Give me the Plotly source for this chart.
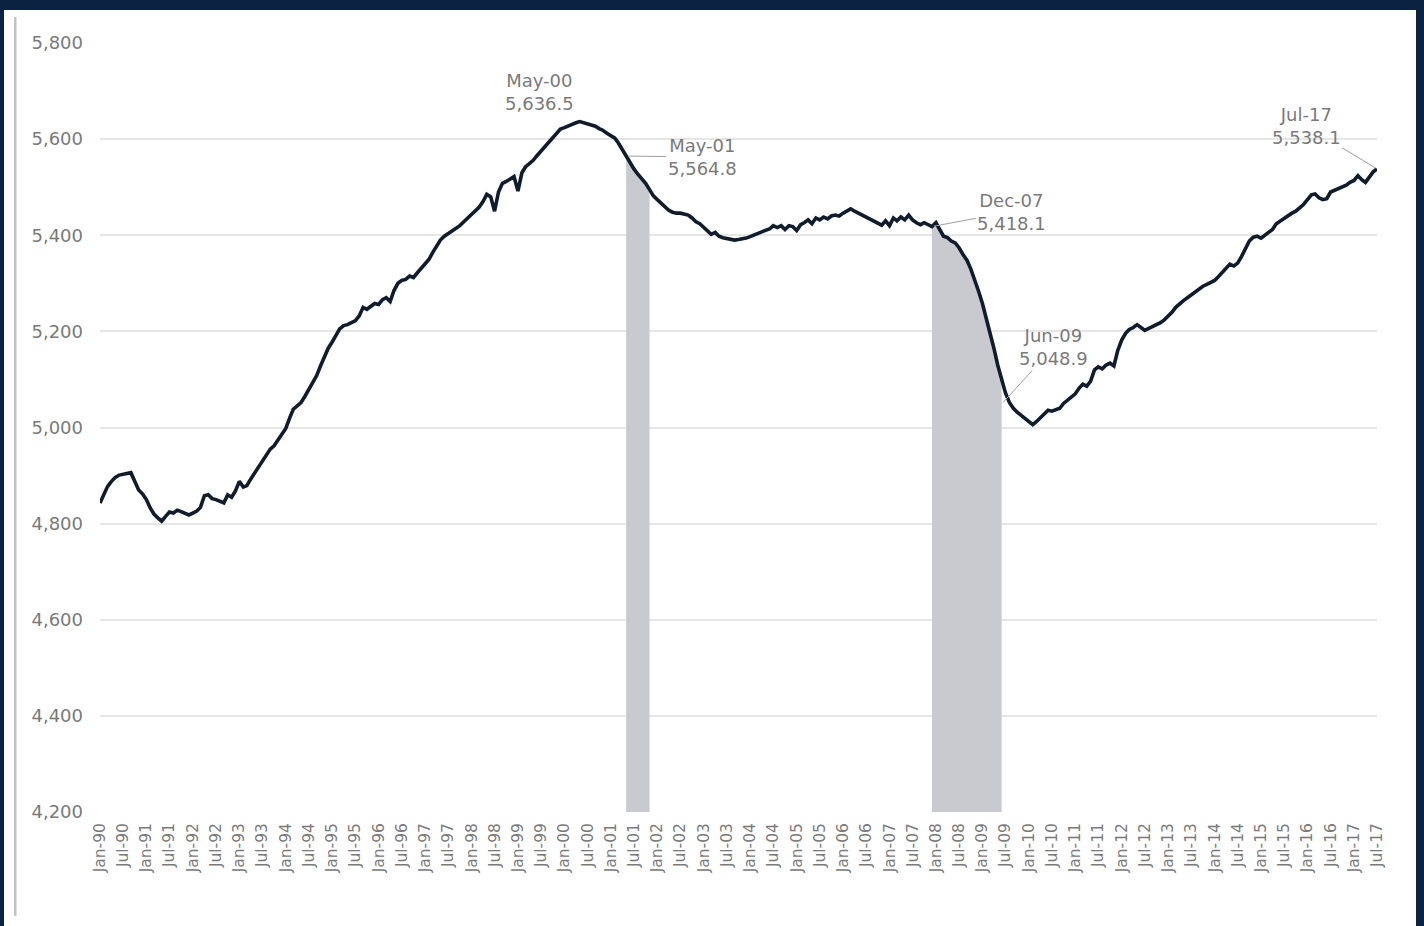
import pandas as pd
import plotly.graph_objects as go

# Monthly employment (thousands), Jan-1990 .. Jul-2017
v1990 = [4843, 4862, 4877, 4888, 4896, 4901, 4903, 4905, 4906, 4888, 4870, 4862]
v1991 = [4850, 4832, 4820, 4812, 4805, 4815, 4824, 4822, 4828, 4825, 4822, 4818]
v1992 = [4822, 4826, 4834, 4858, 4860, 4852, 4850, 4846, 4843, 4860, 4855, 4868]
v1993 = [4888, 4876, 4879, 4893, 4905, 4918, 4930, 4943, 4955, 4962, 4975, 4985]
v1994 = [4998, 5020, 5038, 5045, 5052, 5065, 5078, 5092, 5108, 5128, 5148, 5165]
v1995 = [5178, 5192, 5205, 5212, 5214, 5218, 5222, 5232, 5250, 5246, 5252, 5258]
v1996 = [5256, 5266, 5270, 5262, 5285, 5300, 5306, 5308, 5315, 5312, 5322, 5332]
v1997 = [5340, 5350, 5364, 5378, 5390, 5398, 5403, 5408, 5414, 5420, 5428, 5436]
v1998 = [5442, 5450, 5458, 5470, 5485, 5480, 5450, 5490, 5508, 5512, 5518, 5522]
v1999 = [5492, 5530, 5542, 5548, 5556, 5566, 5575, 5583, 5594, 5602, 5612, 5621]
v2000 = [5624, 5628, 5630, 5634, 5636.5, 5634, 5632, 5630, 5627, 5622, 5618, 5612]
v2001 = [5608, 5602, 5592, 5578, 5564.8, 5550, 5538, 5527, 5518, 5508, 5495, 5482]
v2002 = [5474, 5466, 5458, 5452, 5448, 5446, 5446, 5444, 5442, 5436, 5428, 5424]
v2003 = [5416, 5410, 5402, 5406, 5398, 5395, 5393, 5391, 5390, 5391, 5392, 5394]
v2004 = [5397, 5401, 5405, 5407, 5410, 5413, 5420, 5416, 5420, 5412, 5420, 5418]
v2005 = [5410, 5422, 5426, 5432, 5424, 5436, 5432, 5438, 5434, 5440, 5442, 5440]
v2006 = [5446, 5450, 5455, 5450, 5446, 5440, 5438, 5432, 5428, 5424, 5421, 5430]
v2007 = [5420, 5436, 5430, 5438, 5432, 5442, 5432, 5426, 5422, 5426, 5422, 5418.1]
v2008 = [5426, 5410, 5398, 5395, 5388, 5384, 5374, 5360, 5348, 5330, 5308, 5284]
v2009 = [5258, 5228, 5196, 5165, 5130, 5100, 5072, 5052, 5040, 5032, 5026, 5018]
v2010 = [5012, 5006, 5012, 5020, 5030, 5036, 5034, 5038, 5040, 5050, 5056, 5062]
v2011 = [5070, 5082, 5090, 5086, 5096, 5120, 5126, 5122, 5130, 5134, 5128, 5160]
v2012 = [5182, 5196, 5204, 5208, 5214, 5208, 5202, 5206, 5210, 5214, 5218, 5224]
v2013 = [5232, 5240, 5250, 5258, 5264, 5270, 5276, 5282, 5288, 5294, 5298, 5302]
v2014 = [5306, 5314, 5322, 5332, 5340, 5336, 5342, 5356, 5372, 5388, 5396, 5398]
v2015 = [5394, 5400, 5404, 5412, 5424, 5430, 5436, 5440, 5446, 5450, 5456, 5464]
v2016 = [5474, 5484, 5486, 5478, 5474, 5476, 5490, 5494, 5496, 5500, 5504, 5510]
v2017 = [5514, 5524, 5516, 5510, 5522, 5532, 5538.1]

values = (v1990 + v1991 + v1992 + v1993 + v1994 + v1995 + v1996 + v1997 + v1998
          + v1999 + v2000 + v2001 + v2002 + v2003 + v2004 + v2005 + v2006 + v2007
          + v2008 + v2009 + v2010 + v2011 + v2012 + v2013 + v2014 + v2015 + v2016 + v2017)
dates = pd.date_range("1990-01-01", periods=len(values), freq="MS")
series = pd.Series(values, index=dates)

# Recession periods (shaded under the curve)
recessions = [("2001-05-01", "2001-11-01"), ("2007-12-01", "2009-06-01")]

# Labelled points: (date, value, label)
callouts = [
    ("2000-05-01", 5636.5, "May-00"),
    ("2001-05-01", 5564.8, "May-01"),
    ("2007-12-01", 5418.1, "Dec-07"),
    ("2009-06-01", 5048.9, "Jun-09"),
    ("2017-07-01", 5538.1, "Jul-17"),
]

# Tick labels every six months
tick_dates = pd.date_range("1990-01-01", "2017-07-01", freq="6MS")
tick_text = [d.strftime("%b-%y") for d in tick_dates]
y_ticks = [4200, 4400, 4600, 4800, 5000, 5200, 5400, 5600, 5800]

NAVY = "#0b2341"
LINE = "#101c2c"
SHADE = "#c8cacf"
TEXT = "#7a7a7a"
FONT = "DejaVu Sans"

fig = go.Figure()

for start, end in recessions:
    seg = series.loc[start:end]
    fig.add_trace(go.Scatter(x=seg.index, y=seg.values, mode="lines",
                             line=dict(width=0), fill="tozeroy",
                             fillcolor=SHADE, hoverinfo="skip", showlegend=False))

fig.add_trace(go.Scatter(x=series.index, y=series.values, mode="lines",
                         line=dict(color=LINE, width=3.6), showlegend=False))

# callout offsets (pixels) -- styling only
offsets = {
    "May-00": dict(ax=-40, ay=-30, showarrow=False),
    "May-01": dict(ax=76, ay=1, showarrow=True),
    "Dec-07": dict(ax=80, ay=-15, showarrow=True),
    "Jun-09": dict(ax=52, ay=-57, showarrow=True),
    "Jul-17": dict(ax=-71, ay=-43, showarrow=True),
}
for d, v, lab in callouts:
    o = offsets[lab]
    txt = f"{lab}<br>{v:,.1f}"
    fnt = dict(family=FONT, size=18, color=TEXT)
    if o["showarrow"]:
        fig.add_annotation(x=d, y=v, text=txt, showarrow=True, ax=o["ax"], ay=o["ay"],
                           arrowhead=0, arrowwidth=1, arrowcolor="#a0a0a0", standoff=2,
                           font=fnt, align="center")
    else:
        fig.add_annotation(x=d, y=v, text=txt, showarrow=False,
                           xshift=o["ax"], yshift=-o["ay"], font=fnt, align="center")

W, H = 1424, 926
L, R, T, B = 100, 47, 43, 114
pw, ph = W - L - R, H - T - B

def px(x):
    return (x - L) / pw

def py(y):
    return (H - B - y) / ph

frame = [
    (0, 0, W, 10, NAVY),      # top band
    (0, 0, 4, H, NAVY),       # left border
    (1416, 0, W, H, NAVY),    # right border
    (14, 17, 16.5, 916, "#c4c4c4"),  # inner grey rule
]
for x0, y0, x1, y1, c in frame:
    fig.add_shape(type="rect", xref="paper", yref="paper",
                  x0=px(x0), x1=px(x1), y0=py(y1), y1=py(y0),
                  fillcolor=c, line=dict(width=0), layer="above")

fig.update_layout(
    width=W, height=H,
    margin=dict(l=L, r=R, t=T, b=B),
    paper_bgcolor="white", plot_bgcolor="white",
    font=dict(family=FONT, color=TEXT),
    xaxis=dict(range=[dates[0], dates[-1]], tickvals=tick_dates, ticktext=tick_text,
               tickangle=-90, tickfont=dict(size=15.5, color=TEXT), showgrid=False,
               zeroline=False, showline=False, ticks="", ticklabelstandoff=7),
    yaxis=dict(range=[4200, 5800], tickvals=y_ticks, tickformat=",",
               tickfont=dict(size=18, color=TEXT), showgrid=True,
               gridcolor="#e6e6e6", gridwidth=2, zeroline=False, showline=False,
               ticks="", ticklabelstandoff=16),
)

fig.write_html("out.html")
